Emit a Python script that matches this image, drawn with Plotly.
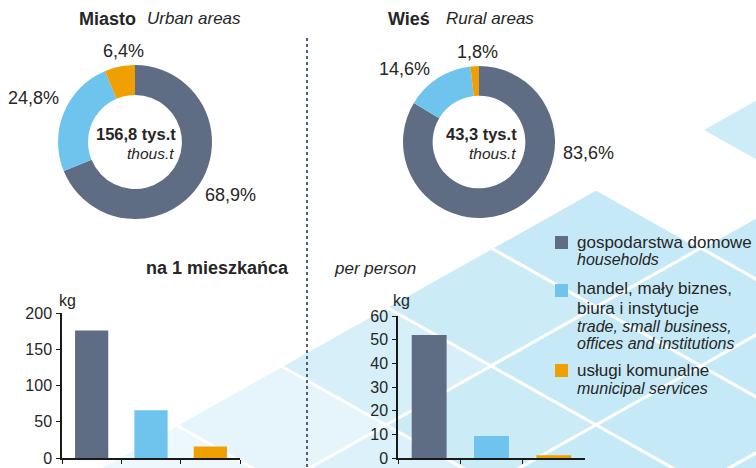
import plotly.graph_objects as go

W, H = 756, 468

# ---------------- data ----------------
categories = ["gospodarstwa domowe", "handel, mały biznes, biura i instytucje", "usługi komunalne"]
urban_share = [68.9, 24.8, 6.4]
rural_share = [83.6, 14.6, 1.8]
urban_total = 156.8
rural_total = 43.3
urban_per_person = [176, 66, 16]
rural_per_person = [52, 9.3, 1.2]
urban_ticks = [0, 50, 100, 150, 200]
rural_ticks = [0, 10, 20, 30, 40, 50, 60]

legend_pl = [["gospodarstwa domowe"], ["handel, mały biznes,", "biura i instytucje"], ["usługi komunalne"]]
legend_en = [["households"], ["trade, small business,", "offices and institutions"], ["municipal services"]]

colors = ["#5e6d84", "#6fc4ee", "#ef9f00"]
TXT = "#262626"
FONT = "Liberation Sans, Arial, sans-serif"


def fx(px):
    return px / W


def fy(py):
    return 1 - py / H


def fmt(v):
    return f"{v:.1f}".replace(".", ",")


fig = go.Figure()

# ---------------- donuts ----------------
fig.add_trace(go.Pie(
    labels=categories, values=urban_share, hole=0.61, sort=False,
    direction="clockwise", rotation=0, textinfo="none", showlegend=False,
    marker=dict(colors=colors, line=dict(width=0)),
    domain=dict(x=[fx(58), fx(212)], y=[fy(219), fy(65)]),
))
fig.add_trace(go.Pie(
    labels=categories, values=rural_share, hole=0.61, sort=False,
    direction="clockwise", rotation=0, textinfo="none", showlegend=False,
    marker=dict(colors=colors, line=dict(width=0)),
    domain=dict(x=[fx(403), fx(555)], y=[fy(218), fy(66)]),
))

# ---------------- bars ----------------
fig.add_trace(go.Bar(
    x=categories, y=urban_per_person, marker=dict(color=colors, line=dict(width=0)),
    width=0.56, showlegend=False, xaxis="x", yaxis="y",
))
fig.add_trace(go.Bar(
    x=categories, y=rural_per_person, marker=dict(color=colors, line=dict(width=0)),
    width=0.56, showlegend=False, xaxis="x2", yaxis="y2",
))

axis_common = dict(showgrid=False, zeroline=False, linecolor="#1a1a1a", linewidth=1.5,
                   ticks="outside", tickcolor="#1a1a1a", ticklen=4, tickwidth=1.2,
                   automargin=False, ticklabeloverflow="allow")
fig.update_layout(
    xaxis=dict(domain=[fx(62), fx(240)], anchor="y", showticklabels=False,
               tickson="boundaries", range=[-0.5, 2.5], **axis_common),
    yaxis=dict(domain=[fy(458), fy(313)], anchor="x", range=[0, 200], tickvals=urban_ticks,
               tickfont=dict(size=16, color=TXT, family=FONT), ticklabelstandoff=1,
               **axis_common),
    xaxis2=dict(domain=[fx(398), fx(585)], anchor="y2", showticklabels=False,
                tickson="boundaries", range=[-0.5, 2.5], **axis_common),
    yaxis2=dict(domain=[fy(458), fy(316)], anchor="x2", range=[0, 60], tickvals=rural_ticks,
                tickfont=dict(size=16, color=TXT, family=FONT), ticklabelstandoff=1,
                **axis_common),
)

# ---------------- background decoration (diamonds) ----------------
shapes = []
a, b = 105, 59
diamonds = [
    (596, 248, 1.0), (701, 307, 1.0), (491, 307, 0.9), (596, 366, 1.0),
    (806, 248, 1.0), (806, 366, 1.0), (701, 425, 1.0), (491, 425, 0.9),
    (386, 366, 0.7), (596, 484, 1.0), (386, 484, 0.6), (281, 425, 0.45),
    (176, 484, 0.3), (806, 130, 0.85), (806, 484, 1.0),
]
for cx, cy, op in diamonds:
    path = (f"M {fx(cx)} {fy(cy - b)} L {fx(cx + a)} {fy(cy)} "
            f"L {fx(cx)} {fy(cy + b)} L {fx(cx - a)} {fy(cy)} Z")
    shapes.append(dict(type="path", xref="paper", yref="paper", path=path,
                       fillcolor="#c6e9f7", opacity=op, line=dict(color="white", width=3),
                       layer="below"))

# dotted separator
shapes.append(dict(type="line", xref="paper", yref="paper", x0=fx(307), x1=fx(307),
                   y0=fy(38), y1=fy(468), line=dict(color="#4f5f7c", width=2, dash="dot")))

# legend squares
sq_top = [236, 284, 364]
for c, t in zip(colors, sq_top):
    shapes.append(dict(type="rect", xref="paper", yref="paper", x0=fx(555), x1=fx(568),
                       y0=fy(t + 13), y1=fy(t), fillcolor=c, line=dict(width=0)))

# ---------------- annotations ----------------
ann = []


def text(x, y, s, size=16, xanchor="left", align="left", color=TXT):
    ann.append(dict(x=fx(x), y=fy(y), xref="paper", yref="paper", text=s, showarrow=False,
                    xanchor=xanchor, yanchor="middle", align=align,
                    font=dict(size=size, color=color, family=FONT)))


# titles
text(77, 19, "<b>Miasto</b>", 18)
text(145, 19, "<i>Urban areas</i>", 17)
text(386, 19, "<b>Wieś</b>", 18)
text(444, 19, "<i>Rural areas</i>", 17)

# percentage labels
text(258, 195, fmt(urban_share[0]) + "%", 18, xanchor="right")
text(61, 98, fmt(urban_share[1]) + "%", 18, xanchor="right")
text(123, 51, fmt(urban_share[2]) + "%", 18, xanchor="center")
text(616, 153, fmt(rural_share[0]) + "%", 18, xanchor="right")
text(432, 69, fmt(rural_share[1]) + "%", 18, xanchor="right")
text(477, 52, fmt(rural_share[2]) + "%", 18, xanchor="center")

# centre totals
text(178, 134, f"<b>{fmt(urban_total)} tys.t</b>", 16.5, xanchor="right")
text(176, 154, "<i>thous.t</i>", 15.5, xanchor="right")
text(519, 134, f"<b>{fmt(rural_total)} tys.t</b>", 16.5, xanchor="right")
text(518, 154, "<i>thous.t</i>", 15.5, xanchor="right")

# bar headings
text(291, 268, "<b>na 1 mieszkańca</b>", 18, xanchor="right")
text(332, 268, "<i>per person</i>", 17)
text(57, 300, "kg", 16)
text(391, 300, "kg", 16)

# legend text
pl_y = [[242], [288, 308], [370]]
en_y = [[259], [326, 343], [388]]
for lines, ys in zip(legend_pl, pl_y):
    for s, y in zip(lines, ys):
        text(575, y, s, 17)
for lines, ys in zip(legend_en, en_y):
    for s, y in zip(lines, ys):
        text(575, y, f"<i>{s}</i>", 16)

fig.update_layout(
    width=W, height=H, margin=dict(l=0, r=0, t=0, b=0),
    paper_bgcolor="white", plot_bgcolor="rgba(0,0,0,0)",
    shapes=shapes, annotations=ann, bargap=0.44,
    font=dict(family=FONT, color=TXT), separators=", ",
)

fig.write_html(
    "out.html",
    config={"displayModeBar": False},
    post_script=(
        "document.body.style.margin='0';document.body.style.padding='0';"
        "document.body.style.overflow='hidden';"
        "var d=document.getElementById('{plot_id}');"
        "d.style.position='fixed';d.style.top='0px';d.style.left='0px';"
    ),
)
